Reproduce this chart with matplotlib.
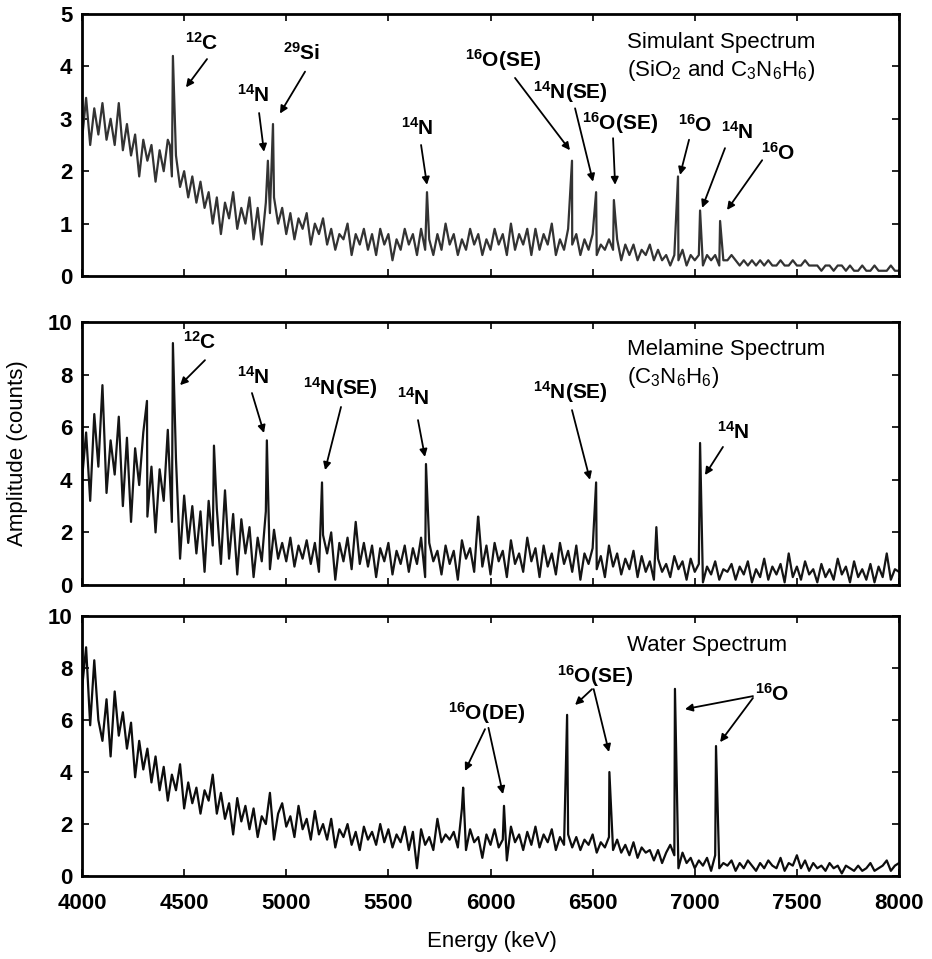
import numpy as np
import matplotlib
matplotlib.use("Agg")
import matplotlib.pyplot as plt

plt.rcParams['font.family'] = ['Liberation Sans', 'DejaVu Sans']
plt.rcParams['mathtext.fontset'] = 'custom'
plt.rcParams['mathtext.rm'] = 'Liberation Sans'
plt.rcParams['mathtext.it'] = 'Liberation Sans'
plt.rcParams['mathtext.default'] = 'regular'

# energy grid of the read-off background, keV
energy_grid = np.arange(4000, 8001, 20)

# simulant spectrum (SiO2 + melamine), background read every 20 keV
simulant_base = [
    2.6, 3.4, 2.5, 3.2, 2.7, 3.3, 2.6, 3.0, 2.5, 3.3,
    2.4, 2.9, 2.3, 2.7, 1.9, 2.6, 2.2, 2.5, 1.8, 2.4,
    2.0, 2.6, 1.9, 2.3, 1.7, 2.0, 1.5, 1.9, 1.4, 1.8,
    1.3, 1.6, 1.0, 1.5, 0.8, 1.4, 1.1, 1.6, 0.9, 1.3,
    1.0, 1.5, 0.7, 1.3, 0.6, 1.4, 1.2, 1.5, 1.0, 1.3,
    0.8, 1.2, 0.7, 1.1, 0.9, 1.2, 0.6, 1.0, 0.8, 1.1,
    0.6, 0.9, 0.5, 0.8, 0.7, 1.0, 0.4, 0.8, 0.6, 0.9,
    0.5, 0.8, 0.4, 0.9, 0.6, 0.8, 0.3, 0.7, 0.5, 0.9,
    0.6, 0.8, 0.4, 0.9, 0.5, 0.7, 0.4, 0.8, 0.5, 1.0,
    0.6, 0.8, 0.4, 0.7, 0.5, 0.9, 0.6, 0.8, 0.4, 0.7,
    0.5, 0.9, 0.6, 0.8, 0.4, 1.0, 0.5, 0.8, 0.6, 0.9,
    0.4, 0.9, 0.5, 0.8, 0.6, 1.0, 0.4, 0.7, 0.5, 0.9,
    0.6, 0.8, 0.4, 0.7, 0.5, 0.8, 0.4, 0.6, 0.5, 0.7,
    0.5, 0.7, 0.3, 0.6, 0.4, 0.6, 0.3, 0.5, 0.4, 0.6,
    0.3, 0.5, 0.3, 0.4, 0.2, 0.4, 0.3, 0.5, 0.2, 0.4,
    0.3, 0.4, 0.2, 0.4, 0.3, 0.4, 0.2, 0.3, 0.3, 0.4,
    0.3, 0.2, 0.3, 0.2, 0.3, 0.2, 0.3, 0.2, 0.3, 0.2,
    0.2, 0.3, 0.2, 0.2, 0.3, 0.2, 0.2, 0.3, 0.2, 0.2,
    0.2, 0.1, 0.2, 0.2, 0.1, 0.2, 0.2, 0.1, 0.2, 0.1,
    0.1, 0.2, 0.1, 0.1, 0.2, 0.1, 0.1, 0.1, 0.2, 0.1,
    0.1,
]
simulant_peak_e = [4430, 4445, 4910, 4935, 5689, 6399, 6517, 6604, 6918, 7026, 7124]
simulant_peak_h = [2.5, 4.2, 2.2, 2.9, 1.6, 2.2, 1.6, 1.45, 1.9, 1.25, 1.05]

# melamine spectrum
melamine_base = [
    4.0, 5.8, 3.2, 6.5, 4.5, 7.6, 3.5, 5.5, 4.2, 6.4,
    3.0, 5.6, 2.4, 5.2, 3.8, 5.8, 2.6, 4.5, 2.0, 4.4,
    3.2, 5.9, 2.4, 4.8, 1.0, 3.4, 1.6, 3.0, 1.2, 2.8,
    0.5, 3.2, 1.5, 2.9, 0.8, 3.6, 1.0, 2.7, 0.4, 2.5,
    1.2, 2.2, 0.3, 1.8, 0.9, 2.8, 0.6, 2.1, 1.0, 1.6,
    0.9, 1.8, 0.7, 1.5, 1.0, 1.7, 0.8, 1.6, 0.5, 1.9,
    1.2, 2.0, 0.2, 1.6, 0.9, 1.8, 0.6, 2.4, 0.8, 1.6,
    0.7, 1.5, 0.3, 1.4, 0.9, 1.6, 0.4, 1.3, 0.8, 1.5,
    0.5, 1.4, 0.8, 1.8, 0.3, 1.6, 0.9, 1.3, 0.4, 1.5,
    0.8, 1.3, 0.2, 1.7, 1.0, 1.4, 0.5, 2.6, 0.7, 1.5,
    0.4, 1.6, 0.9, 1.3, 0.3, 1.7, 0.8, 1.2, 0.5, 1.8,
    0.9, 1.4, 0.3, 1.5, 0.7, 1.2, 0.4, 1.6, 0.8, 1.3,
    0.5, 1.5, 0.2, 1.2, 0.8, 1.4, 0.6, 1.1, 0.3, 1.5,
    0.7, 1.2, 0.4, 1.0, 0.6, 1.3, 0.3, 1.1, 0.5, 0.9,
    0.2, 1.0, 0.5, 0.8, 0.3, 1.1, 0.6, 0.9, 0.2, 1.0,
    0.5, 0.8, 0.1, 0.7, 0.4, 0.9, 0.2, 0.6, 0.5, 0.8,
    0.2, 0.7, 0.4, 0.9, 0.1, 0.6, 0.3, 1.0, 0.2, 0.7,
    0.4, 0.8, 0.1, 1.2, 0.3, 0.7, 0.2, 0.9, 0.4, 0.6,
    0.1, 0.8, 0.3, 0.6, 0.2, 1.0, 0.4, 0.7, 0.1, 0.9,
    0.3, 0.6, 0.2, 0.8, 0.1, 0.7, 0.3, 1.2, 0.2, 0.6,
    0.5,
]
melamine_peak_e = [4318, 4445, 4646, 4905, 5175, 5684, 5939, 6517, 6812, 7026]
melamine_peak_h = [7.0, 9.2, 5.3, 5.5, 3.9, 4.6, 2.6, 3.9, 2.2, 5.4]

# water spectrum
water_base = [
    7.2, 8.8, 5.8, 8.3, 6.0, 5.2, 6.8, 4.6, 7.1, 5.4,
    6.3, 4.9, 5.9, 3.8, 5.2, 4.1, 4.9, 3.6, 4.6, 3.3,
    4.2, 2.9, 3.9, 3.3, 4.3, 2.6, 3.6, 2.8, 3.4, 2.4,
    3.3, 2.9, 3.9, 2.4, 3.2, 2.2, 2.8, 1.6, 3.0, 2.1,
    2.7, 1.8, 2.6, 1.5, 2.3, 2.0, 3.2, 1.4, 2.4, 2.8,
    1.9, 2.3, 1.5, 2.7, 1.8, 2.2, 1.4, 2.5, 1.6, 2.0,
    1.4, 2.2, 1.1, 1.8, 1.5, 2.0, 1.2, 1.7, 1.0, 1.9,
    1.4, 1.7, 1.2, 2.0, 1.3, 1.8, 1.1, 1.6, 1.3, 1.9,
    1.0, 1.7, 0.3, 1.8, 1.2, 1.5, 1.0, 2.2, 1.3, 1.6,
    1.4, 1.7, 1.1, 2.6, 1.0, 1.8, 1.3, 1.5, 0.7, 1.6,
    1.2, 1.8, 1.1, 1.4, 0.6, 1.9, 1.3, 1.6, 1.0, 1.7,
    1.2, 1.9, 1.1, 1.6, 1.3, 1.8, 1.0, 1.5, 1.2, 1.6,
    1.1, 1.5, 1.0, 1.4, 1.2, 1.6, 0.9, 1.3, 1.1, 1.5,
    1.0, 1.4, 0.9, 1.2, 0.8, 1.3, 0.7, 1.1, 0.9, 1.0,
    0.6, 1.0, 0.5, 0.9, 1.2, 0.8, 0.3, 0.9, 0.5, 0.7,
    0.3, 0.6, 0.4, 0.7, 0.2, 0.8, 0.3, 0.5, 0.4, 0.6,
    0.2, 0.5, 0.3, 0.6, 0.4, 0.2, 0.5, 0.3, 0.6, 0.4,
    0.3, 0.7, 0.2, 0.5, 0.4, 0.8, 0.3, 0.6, 0.2, 0.5,
    0.3, 0.4, 0.2, 0.5, 0.3, 0.4, 0.1, 0.4, 0.3, 0.2,
    0.4, 0.2, 0.3, 0.5, 0.2, 0.3, 0.4, 0.6, 0.2, 0.4,
    0.5,
]
water_peak_e = [5866, 6066, 6375, 6582, 6903, 7104]
water_peak_h = [3.4, 2.7, 6.2, 4.0, 7.2, 5.0]

x_ticks = [4000, 4500, 5000, 5500, 6000, 6500, 7000, 7500, 8000]


def merge(base, pe, ph):
    e = np.concatenate([energy_grid, pe])
    v = np.concatenate([base, ph])
    order = np.argsort(e)
    return e[order], v[order]


fig = plt.figure(figsize=(9.32, 9.59), dpi=100)
L, W = 0.088, 0.8766
ax1 = fig.add_axes([L, 0.7122, W, 0.2732])
ax2 = fig.add_axes([L, 0.3900, W, 0.2742])
ax3 = fig.add_axes([L, 0.0865, W, 0.2711])

panels = [
    (ax1, simulant_base, simulant_peak_e, simulant_peak_h, '#333333', 5, 1),
    (ax2, melamine_base, melamine_peak_e, melamine_peak_h, '#151515', 10, 2),
    (ax3, water_base, water_peak_e, water_peak_h, '#0d0d0d', 10, 2),
]
for ax, base, pe, ph, col, ymax, ystep in panels:
    e, v = merge(base, pe, ph)
    ax.plot(e, v, color=col, lw=1.6)
    ax.set_xlim(4000, 8000)
    ax.set_ylim(0, ymax)
    ax.set_yticks(np.arange(0, ymax + 0.1, ystep))
    ax.set_xticks(x_ticks)
    ax.tick_params(direction='in', top=True, right=True, length=5, width=1.2,
                   labelsize=16, pad=7)
    for lab in ax.get_xticklabels() + ax.get_yticklabels():
        lab.set_fontweight('bold')
    for s in ax.spines.values():
        s.set_linewidth(2)
ax1.tick_params(labelbottom=False)
ax2.tick_params(labelbottom=False)
ax3.tick_params(axis='x', pad=12)

arrow = dict(arrowstyle='-|>', lw=1.3, color='black', mutation_scale=11,
             shrinkA=0, shrinkB=0)
fs = 15
tfs = 16


def label(ax, text, xy, tails, tips):
    ax.text(xy[0], xy[1], text, ha='center', va='center', fontsize=fs,
            fontweight='bold')
    for t, p in zip(tails, tips):
        ax.annotate('', xy=p, xytext=t, arrowprops=arrow)


# simulant annotations
label(ax1, r'$^{12}$C', (4587, 4.45), [(4612, 4.14)], [(4509, 3.6)])
label(ax1, r'$^{14}$N', (4837, 3.45), [(4867, 3.11)], [(4891, 2.37)])
label(ax1, r'$^{29}$Si', (5077, 4.26), [(5092, 3.9)], [(4969, 3.1)])
label(ax1, r'$^{14}$N', (5640, 2.82), [(5660, 2.5)], [(5689, 1.74)])
label(ax1, r'$^{16}$O(SE)', (6061, 4.12), [(6120, 3.78)], [(6389, 2.4)])
label(ax1, r'$^{14}$N(SE)', (6389, 3.51), [(6414, 3.2)], [(6502, 1.8)])
label(ax1, r'$^{16}$O(SE)', (6634, 2.92), [(6600, 2.63)], [(6610, 1.74)])
label(ax1, r'$^{16}$O', (7001, 2.88), [(6972, 2.6)], [(6928, 1.93)])
label(ax1, r'$^{14}$N', (7207, 2.75), [(7148, 2.44)], [(7036, 1.3)])
label(ax1, r'$^{16}$O', (7408, 2.35), [(7330, 2.21)], [(7158, 1.26)])
ax1.text(6668, 4.45, 'Simulant Spectrum', ha='left', va='center', fontsize=tfs)
ax1.text(6668, 3.93, r'(SiO$_2$ and C$_3$N$_6$H$_6$)', ha='left', va='center', fontsize=tfs)

# melamine annotations
label(ax2, r'$^{12}$C', (4578, 9.24), [(4602, 8.55)], [(4480, 7.6)])
label(ax2, r'$^{14}$N', (4837, 7.9), [(4832, 7.3)], [(4891, 5.78)])
label(ax2, r'$^{14}$N(SE)', (5263, 7.5), [(5268, 6.77)], [(5190, 4.37)])
label(ax2, r'$^{14}$N', (5621, 7.1), [(5645, 6.27)], [(5679, 4.87)])
label(ax2, r'$^{14}$N(SE)', (6389, 7.34), [(6399, 6.65)], [(6487, 4.0)])
label(ax2, r'$^{14}$N', (7187, 5.82), [(7138, 5.25)], [(7050, 4.18)])
ax2.text(6668, 8.94, 'Melamine Spectrum', ha='left', va='center', fontsize=tfs)
ax2.text(6668, 7.9, r'(C$_3$N$_6$H$_6$)', ha='left', va='center', fontsize=tfs)

# water annotations
label(ax3, r'$^{16}$O(DE)', (5983, 6.27), [(5973, 5.65), (5990, 5.7)],
      [(5875, 4.04), (6061, 3.15)])
label(ax3, r'$^{16}$O(SE)', (6512, 7.7), [(6497, 7.19), (6505, 7.19)],
      [(6414, 6.58), (6580, 4.77)])
label(ax3, r'$^{16}$O', (7378, 7.0), [(7285, 6.92), (7285, 6.85)],
      [(6952, 6.42), (7124, 5.15)])
ax3.text(6668, 8.85, 'Water Spectrum', ha='left', va='center', fontsize=tfs)

fig.text(18 / 932, 1 - 453 / 959, 'Amplitude (counts)', rotation=90,
         ha='center', va='center', fontsize=16)
fig.text(492 / 932, 1 - 942 / 959, 'Energy (keV)', ha='center', va='center',
         fontsize=16)

fig.savefig('out.png', dpi=100)
